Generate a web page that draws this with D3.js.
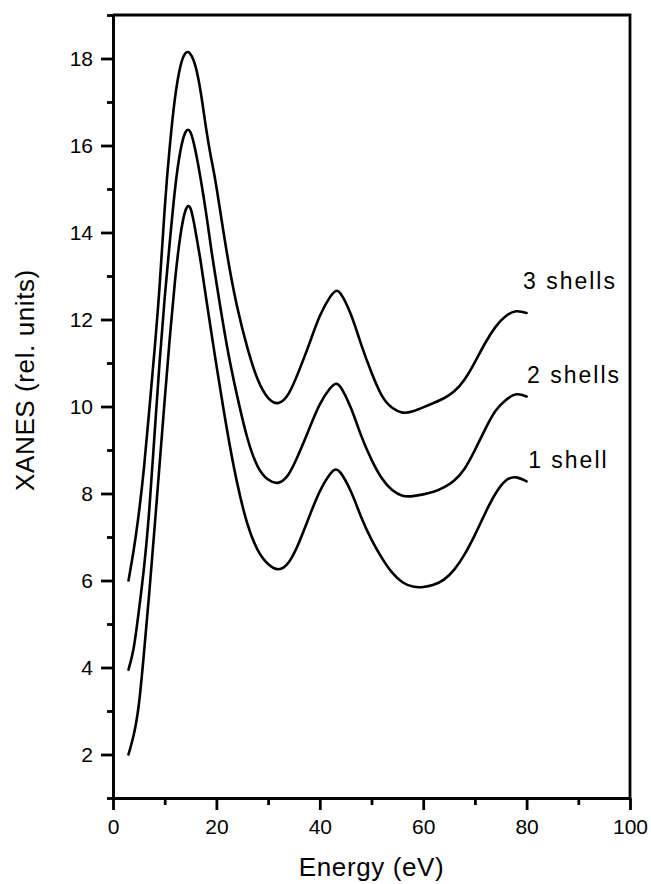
<html>
<head>
    <style>
        body {
            margin: 0;
            background-color: white;
        }
        .curve {
            fill: none;
            stroke: black;
            stroke-width: 2.6;
            stroke-linejoin: round;
            stroke-linecap: round;
        }
        .axis path, .axis line, .frame {
            stroke: black;
            stroke-width: 2.8;
            fill: none;
        }
        .axis text {
            font-family: "Liberation Sans", Arial, sans-serif;
            font-size: 21px;
            fill: black;
        }
        .title {
            font-family: "Liberation Sans", Arial, sans-serif;
            font-size: 26px;
            letter-spacing: 0.6px;
        }
        .shell-label {
            font-family: "Liberation Sans", Arial, sans-serif;
            font-size: 23px;
            letter-spacing: 2px;
        }
    </style>
</head>
<body>
<script src="https://cdn.jsdelivr.net/npm/d3@7"></script>
<script>
    var energy = [3, 4, 5, 6, 7, 8, 9, 10, 11, 12, 13, 14, 15, 16, 17, 18, 19, 20,
        22, 24, 26, 28, 30, 32, 34, 36, 38, 40, 42, 43, 44, 46, 48, 50, 52, 54,
        56, 58, 60, 62, 64, 66, 68, 70, 72, 74, 76, 78, 80];

    var shell1 = [2.0, 2.45, 3.15, 4.35, 5.7, 7.15, 8.65, 10.15, 11.6, 12.9, 13.9, 14.5, 14.55, 14.0, 13.3, 12.5, 11.72, 10.95,
        9.5, 8.25, 7.3, 6.7, 6.38, 6.26, 6.42, 6.88, 7.48, 8.05, 8.45, 8.55, 8.48, 8.05, 7.46, 6.94, 6.52, 6.18,
        5.96, 5.86, 5.85, 5.9, 6.02, 6.25, 6.6, 7.05, 7.55, 8.0, 8.3, 8.37, 8.28];

    var shell2 = [3.95, 4.45, 5.3, 6.3, 7.6, 9.3, 11.0, 12.5, 13.8, 15.0, 15.85, 16.3, 16.3, 15.85, 15.2, 14.45, 13.62, 12.85,
        11.42, 10.25, 9.27, 8.62, 8.32, 8.25, 8.45, 8.93, 9.5, 10.05, 10.42, 10.52, 10.45, 9.97, 9.33, 8.78, 8.35, 8.08,
        7.95, 7.94, 7.98, 8.04, 8.14, 8.3, 8.57, 9.0, 9.48, 9.9, 10.15, 10.28, 10.23];

    var shell3 = [6.0, 6.7, 7.55, 8.6, 9.9, 11.25, 12.75, 14.55, 16.0, 17.1, 17.8, 18.12, 18.1, 17.8, 17.2, 16.4, 15.7, 15.05,
        13.55, 12.3, 11.35, 10.62, 10.2, 10.08, 10.3, 10.83, 11.45, 12.08, 12.52, 12.65, 12.6, 12.12, 11.43, 10.78, 10.25, 9.97,
        9.86, 9.89, 9.98, 10.08, 10.19, 10.35, 10.62, 11.02, 11.46, 11.83, 12.08, 12.19, 12.15];

    var seriesNames = ["1 shell", "2 shells", "3 shells"];
    var xTicks = [0, 20, 40, 60, 80, 100];
    var xMinorTicks = [10, 30, 50, 70, 90];
    var yTicks = [2, 4, 6, 8, 10, 12, 14, 16, 18];
    var yMinorTicks = [1, 3, 5, 7, 9, 11, 13, 15, 17, 19];

    (function() {

        var width = 651, height = 884;
        var margin = {top: 15, right: 21, bottom: 86, left: 113};
        var plotW = width - margin.left - margin.right;
        var plotH = height - margin.top - margin.bottom;

        var svg = d3.select("body")
                .append("svg")
                .attr("width", width)
                .attr("height", height);

        var g = svg.append("g")
                .attr("transform", "translate(" + margin.left + "," + margin.top + ")");

        var x = d3.scaleLinear().domain([0, 100]).range([0, plotW]);
        var y = d3.scaleLinear().domain([1, 19]).range([plotH, 0]);

        // frame (top and right)
        g.append("path")
                .classed("frame", 1)
                .attr("d", "M0,0H" + plotW + "V" + plotH);

        // minor ticks first, majors with labels on top
        g.append("g")
                .classed("axis", 1)
                .attr("transform", "translate(0," + plotH + ")")
                .call(d3.axisBottom(x).tickValues(xMinorTicks).tickSize(7).tickSizeOuter(0).tickFormat(""));
        g.append("g")
                .classed("axis", 1)
                .attr("transform", "translate(0," + plotH + ")")
                .call(d3.axisBottom(x).tickValues(xTicks).tickSize(12).tickSizeOuter(0).tickPadding(9));

        g.append("g")
                .classed("axis", 1)
                .call(d3.axisLeft(y).tickValues(yMinorTicks).tickSize(6).tickSizeOuter(0).tickFormat(""));
        g.append("g")
                .classed("axis", 1)
                .call(d3.axisLeft(y).tickValues(yTicks).tickSize(12).tickSizeOuter(0).tickPadding(8));

        var series = [shell1, shell2, shell3];

        var line = d3.line()
                .x(function (d, i) { return x(energy[i]); })
                .y(function (d) { return y(d); })
                .curve(d3.curveNatural);

        g.selectAll(".curve")
                .data(series)
                .enter()
                .append("path")
                .classed("curve", 1)
                .attr("d", line);

        // labels next to the curve ends
        var labelPos = [[80.3, 8.58], [80.1, 10.55], [79.3, 12.69]];
        g.selectAll(".shell-label")
                .data(seriesNames)
                .enter()
                .append("text")
                .classed("shell-label", 1)
                .attr("x", function (d, i) { return x(labelPos[i][0]); })
                .attr("y", function (d, i) { return y(labelPos[i][1]); })
                .text(function (d) { return d; });

        svg.append("text")
                .classed("title", 1)
                .attr("x", margin.left + plotW / 2)
                .attr("y", 876)
                .attr("text-anchor", "middle")
                .text("Energy (eV)");

        svg.append("text")
                .classed("title", 1)
                .attr("transform", "translate(34,380) rotate(-90)")
                .attr("text-anchor", "middle")
                .text("XANES (rel. units)");

    })();
</script>
</body>
</html>
